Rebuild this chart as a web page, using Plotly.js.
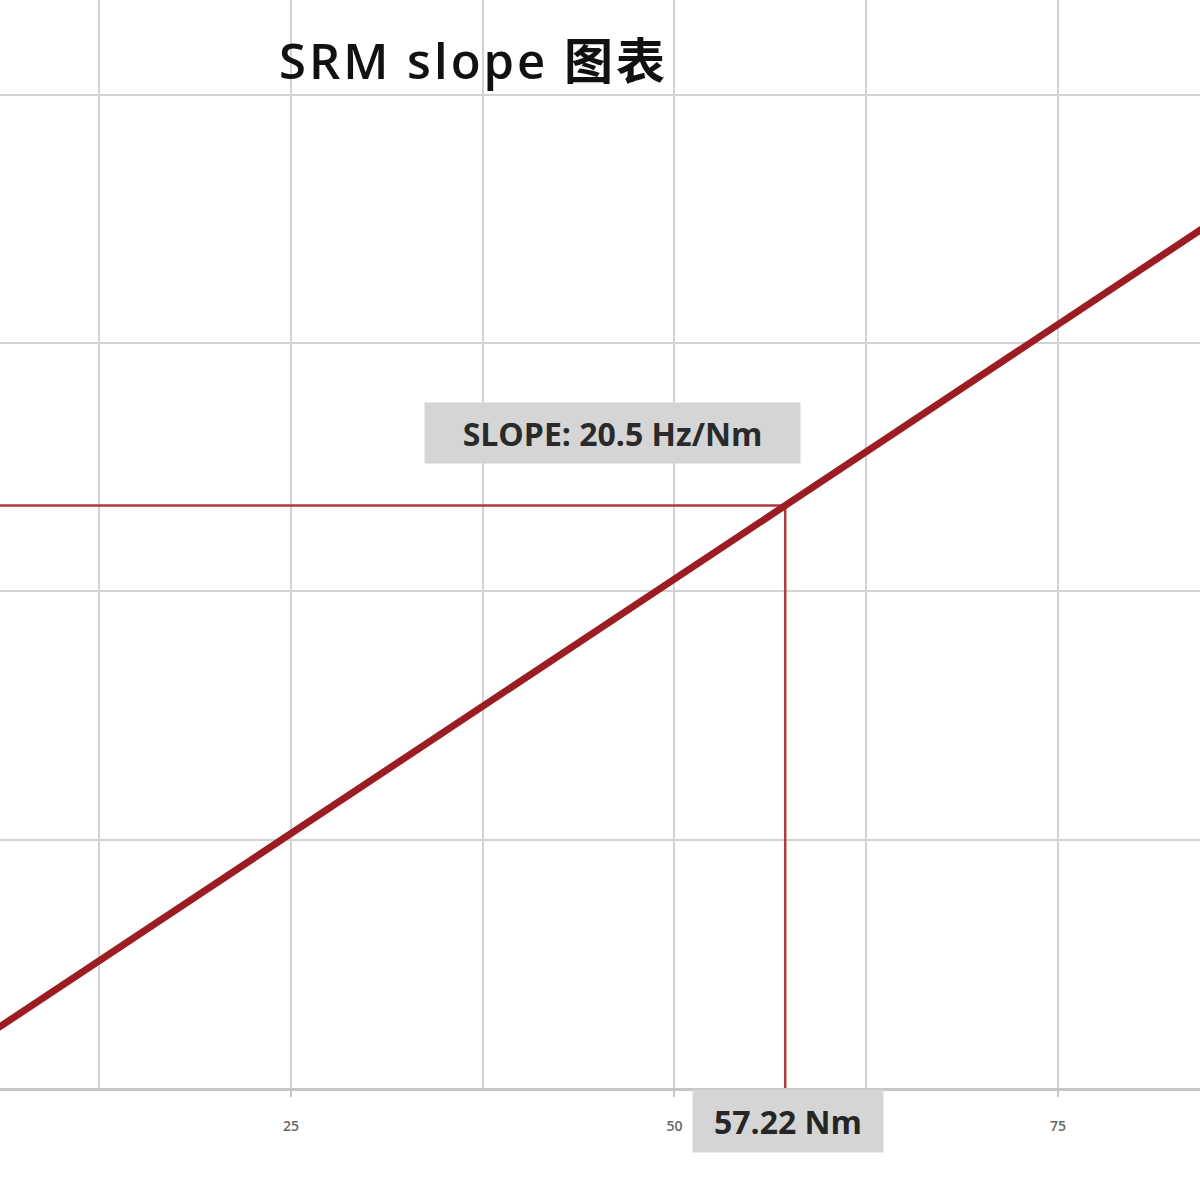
<!DOCTYPE html>
<html>
<head>
<meta charset="utf-8">
<script src="https://cdn.plot.ly/plotly-3.0.1.min.js"></script>
<style>
html,body{margin:0;padding:0;background:#fff;}
#chart{width:1200px;height:1200px;}
#chart .gtitle{letter-spacing:3px;}
</style>
</head>
<body>
<div id="chart"></div>
<script>
// Data
const torqueNm = [0, 90];
const freqHz = [0, 1845];
const markX = [0, 57.22, 57.22];
const markY = [1173, 1173, 0];
const xTickVals = [25, 50, 75];
const xTickText = ['25', '50', '75'];
const titleText = 'SRM slope 图表';
const slopeLabel = 'SLOPE: 20.5 Hz/Nm';
const markLabel = '57.22 Nm';

const FONT = '"Open Sans", "Noto Sans CJK SC", sans-serif';

const traces = [
  {
    x: markX, y: markY, mode: 'lines', type: 'scatter',
    line: {color: '#b03a3c', width: 2.5}, hoverinfo: 'skip', showlegend: false
  },
  {
    x: torqueNm, y: freqHz, mode: 'lines', type: 'scatter',
    line: {color: '#9c1c24', width: 7}, showlegend: false
  }
];

const layout = {
  width: 1200, height: 1200,
  margin: {l: 0, r: 0, t: 0, b: 112, pad: 0},
  paper_bgcolor: '#ffffff', plot_bgcolor: '#ffffff',
  showlegend: false,
  font: {family: FONT},
  title: {
    text: titleText,
    font: {family: FONT, size: 49, color: '#111111', weight: 600},
    x: 0.3946, xref: 'paper', xanchor: 'center',
    y: 1 - 62 / 1200, yref: 'container', yanchor: 'middle'
  },
  xaxis: {
    range: [6.03, 84.26],
    tickmode: 'array', tickvals: xTickVals, ticktext: xTickText,
    showgrid: true, gridcolor: '#d3d3d3', gridwidth: 2,
    minor: {dtick: 12.5, tick0: 0, showgrid: true, gridcolor: '#d3d3d3', gridwidth: 2},
    showline: true, linecolor: '#c6c6c6', linewidth: 3,
    ticks: 'outside', ticklen: 6, tickcolor: '#c6c6c6', tickwidth: 2,
    ticklabelstandoff: 17,
    tickfont: {family: FONT, size: 14, color: '#666666', weight: 600},
    zeroline: false, fixedrange: true
  },
  yaxis: {
    range: [0, 2191],
    dtick: 500, tick0: 0,
    showgrid: true, gridcolor: '#d3d3d3', gridwidth: 2,
    showticklabels: false, ticks: '',
    zeroline: false, showline: false, fixedrange: true
  },
  annotations: [
    {
      x: 45.93, y: 1319, xref: 'x', yref: 'y',
      text: slopeLabel, showarrow: false,
      font: {family: FONT, size: 32, color: '#2a2a2a', weight: 'bold'},
      bgcolor: '#d5d5d5', width: 367, height: 52, borderpad: 4,
      xanchor: 'center', yanchor: 'middle'
    },
    {
      x: 57.22, xshift: 3, y: -0.0303, xref: 'x', yref: 'paper',
      text: markLabel, showarrow: false,
      font: {family: FONT, size: 32, color: '#262626', weight: 'bold'},
      bgcolor: '#d5d5d5', width: 182, height: 54, borderpad: 4,
      xanchor: 'center', yanchor: 'middle'
    }
  ]
};

Plotly.newPlot('chart', traces, layout, {displayModeBar: false, staticPlot: true});
</script>
</body>
</html>
